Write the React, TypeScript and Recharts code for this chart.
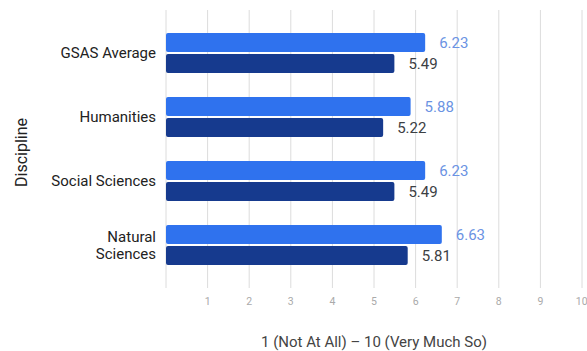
import { Bar, BarChart, CartesianGrid, LabelList, XAxis, YAxis } from "recharts";

const disciplines = ["GSAS Average", "Humanities", "Social Sciences", "Natural Sciences"];
const lightValues = [6.23, 5.88, 6.23, 6.63];
const darkValues = [5.49, 5.22, 5.49, 5.81];
const xTicks = [1, 2, 3, 4, 5, 6, 7, 8, 9, 10];

const FONT = "Roboto, 'Noto Sans', sans-serif";

const data = disciplines.map((name, i) => ({
  name,
  light: lightValues[i],
  dark: darkValues[i]
}));

function CategoryTick({ x, y, payload }: any) {
  const words: string[] = payload.value === "Natural Sciences" ? ["Natural", "Sciences"] : [payload.value];
  const lineHeight = 17;
  const startY = y - ((words.length - 1) * lineHeight) / 2;
  return (
    <text x={x - 2} y={startY} textAnchor="end" fontSize={15} fill="#222" fontFamily={FONT}>
      {words.map((w, i) => (
        <tspan key={w} x={x - 2} y={startY + i * lineHeight} dy="0.35em">
          {w}
        </tspan>
      ))}
    </text>
  );
}

export default function App() {
  return (
    <div style={{ position: "absolute", left: 0, top: 0, background: "#fff" }}>
      <BarChart
        width={587}
        height={351}
        data={data}
        layout="vertical"
        margin={{ top: 10, right: 5, left: 0, bottom: 0 }}
        barGap={2}
        barSize={19}
      >
        <CartesianGrid horizontal={false} stroke="#dcdcdc" />
        <XAxis
          type="number"
          domain={[0, 10]}
          ticks={xTicks}
          axisLine={false}
          tickLine={false}
          height={63}
          tickMargin={4}
          tick={{ fontSize: 10.5, fill: "#aaa", fontFamily: FONT }}
          label={{
            value: "1 (Not At All) – 10 (Very Much So)",
            position: "insideBottom",
            offset: 4,
            fontSize: 15,
            fill: "#444",
            fontFamily: FONT
          }}
        />
        <YAxis
          type="category"
          dataKey="name"
          width={166}
          axisLine={false}
          tickLine={false}
          padding={{ top: 11, bottom: 11 }}
          tick={<CategoryTick />}
          label={{
            value: "Discipline",
            angle: -90,
            position: "insideLeft",
            offset: 21,
            dy: 38,
            fontSize: 16,
            fill: "#222",
            fontFamily: FONT
          }}
        />
        <Bar dataKey="light" fill="#2f72ee" radius={2} isAnimationActive={false}>
          <LabelList dataKey="light" position="right" offset={14} fontSize={15} fill="#6b93e3" fontFamily={FONT} />
        </Bar>
        <Bar dataKey="dark" fill="#163a8e" radius={2} isAnimationActive={false}>
          <LabelList dataKey="dark" position="right" offset={14} fontSize={15} fill="#3c4043" fontFamily={FONT} />
        </Bar>
      </BarChart>
    </div>
  );
}
